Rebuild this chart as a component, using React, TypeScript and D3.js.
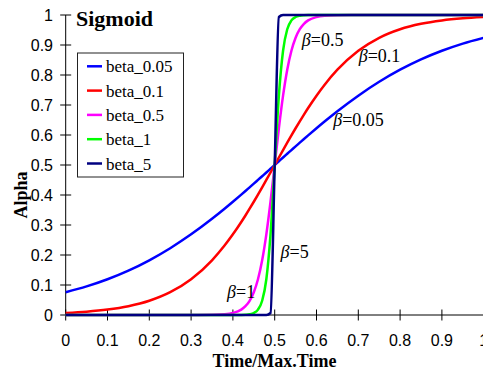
import React from "react";
import * as d3 from "d3";

const T = [0, 0.05, 0.1, 0.15, 0.2, 0.25, 0.3, 0.35, 0.38, 0.4, 0.42, 0.43, 0.44, 0.45, 0.46, 0.47, 0.48, 0.49, 0.5, 0.51, 0.52, 0.53, 0.54, 0.55, 0.56, 0.57, 0.58, 0.6, 0.62, 0.65, 0.7, 0.75, 0.8, 0.85, 0.9, 0.95, 1];

const beta005 = [0.0759, 0.0953, 0.1192, 0.148, 0.1824, 0.2227, 0.2689, 0.3208, 0.3543, 0.3775, 0.4013, 0.4134, 0.4256, 0.4378, 0.4502, 0.4626, 0.475, 0.4875, 0.5, 0.5125, 0.525, 0.5374, 0.5498, 0.5622, 0.5744, 0.5866, 0.5987, 0.6225, 0.6457, 0.6792, 0.7311, 0.7773, 0.8176, 0.852, 0.8808, 0.9047, 0.9241];
const beta01 = [0.0067, 0.011, 0.018, 0.0293, 0.0474, 0.0759, 0.1192, 0.1824, 0.2315, 0.2689, 0.31, 0.3318, 0.3543, 0.3775, 0.4013, 0.4256, 0.4502, 0.475, 0.5, 0.525, 0.5498, 0.5744, 0.5987, 0.6225, 0.6457, 0.6682, 0.69, 0.7311, 0.7685, 0.8176, 0.8808, 0.9241, 0.9526, 0.9707, 0.982, 0.989, 0.9933];
const beta05 = [0, 0, 0, 0, 0, 0, 0, 0.0006, 0.0025, 0.0067, 0.018, 0.0293, 0.0474, 0.0759, 0.1192, 0.1824, 0.2689, 0.3775, 0.5, 0.6225, 0.7311, 0.8176, 0.8808, 0.9241, 0.9526, 0.9707, 0.982, 0.9933, 0.9975, 0.9994, 1, 1, 1, 1, 1, 1, 1];
const beta1 = [0, 0, 0, 0, 0, 0, 0, 0, 0, 0, 0.0003, 0.0009, 0.0025, 0.0067, 0.018, 0.0474, 0.1192, 0.2689, 0.5, 0.7311, 0.8808, 0.9526, 0.982, 0.9933, 0.9975, 0.9991, 0.9997, 1, 1, 1, 1, 1, 1, 1, 1, 1, 1];
const beta5 = [0, 0, 0, 0, 0, 0, 0, 0, 0, 0, 0, 0, 0, 0, 0, 0, 0, 0.0067, 0.5, 0.9933, 1, 1, 1, 1, 1, 1, 1, 1, 1, 1, 1, 1, 1, 1, 1, 1, 1];

const seriesNames = ["beta_0.05", "beta_0.1", "beta_0.5", "beta_1", "beta_5"];
const seriesValues = [beta005, beta01, beta05, beta1, beta5];
const seriesColors = ["#0000ff", "#ff0000", "#ff00ff", "#00ff00", "#000080"];

const xTicks = [0, 0.1, 0.2, 0.3, 0.4, 0.5, 0.6, 0.7, 0.8, 0.9, 1];
const yTicks = [0, 0.1, 0.2, 0.3, 0.4, 0.5, 0.6, 0.7, 0.8, 0.9, 1];

const annotations = [
  { t: 0.565, a: 0.897, label: "=0.5" },
  { t: 0.701, a: 0.845, label: "=0.1" },
  { t: 0.64, a: 0.63, label: "=0.05" },
  { t: 0.514, a: 0.19, label: "=5" },
  { t: 0.386, a: 0.056, label: "=1" },
];

export default function App() {
  const W = 483, H = 373;
  const x = d3.scaleLinear().domain([0, 1]).range([65.7, 483.7]);
  const y = d3.scaleLinear().domain([0, 1]).range([315, 15]);
  const line = d3.line<number>().x((_, i) => x(T[i])).y((d) => y(d)).curve(d3.curveMonotoneX);
  const sans = "'Liberation Sans', Arial, sans-serif";
  const serif = "'Liberation Serif', 'Times New Roman', serif";

  return (
    <svg width={W} height={H} style={{ position: "absolute", left: 0, top: 0, background: "#fff" }}>
      <rect width={W} height={H} fill="#fff" />
      {/* axes */}
      <line x1={x(0)} x2={x(0)} y1={y(1)} y2={y(0)} stroke="#000" strokeWidth={1} />
      <line x1={x(0)} x2={x(1)} y1={y(0)} y2={y(0)} stroke="#000" strokeWidth={1} />
      {yTicks.map((v) => (
        <g key={"y" + v}>
          <line x1={x(0) - 5.5} x2={x(0) + 5.5} y1={y(v)} y2={y(v)} stroke="#000" />
          <text x={53} y={y(v) + 5.6} textAnchor="end" fontFamily={sans} fontSize={16} fill="#000">{String(v)}</text>
        </g>
      ))}
      {xTicks.map((v) => (
        <g key={"x" + v}>
          <line x1={x(v)} x2={x(v)} y1={y(0) - 5.5} y2={y(0) + 5.5} stroke="#000" />
          <text x={x(v)} y={345.5} textAnchor="middle" fontFamily={sans} fontSize={16} fill="#000">{String(v)}</text>
        </g>
      ))}
      {/* series */}
      {seriesValues.map((vals, i) => (
        <path key={seriesNames[i]} d={line(vals) || ""} fill="none" stroke={seriesColors[i]} strokeWidth={2.5} strokeLinejoin="round" />
      ))}
      {/* annotations */}
      {annotations.map((a) => (
        <text key={a.label} x={x(a.t)} y={y(a.a)} fontFamily={serif} fontSize={18} fill="#000">
          <tspan fontStyle="italic">β</tspan>{a.label}
        </text>
      ))}
      {/* titles */}
      <text x={76} y={26} fontFamily={serif} fontWeight="bold" fontSize={22} fill="#000">Sigmoid</text>
      <text x={274.5} y={366.5} textAnchor="middle" fontFamily={serif} fontWeight="bold" fontSize={18} fill="#000">Time/Max.Time</text>
      <text transform="translate(27,195) rotate(-90)" textAnchor="middle" fontFamily={serif} fontWeight="bold" fontSize={18} fill="#000">Alpha</text>
      {/* legend */}
      <rect x={77.5} y={53} width={106} height={124} fill="#fff" stroke="#222" strokeWidth={1} />
      {seriesNames.map((n, i) => (
        <g key={"lg" + n}>
          <line x1={87} x2={102} y1={66.3 + i * 24.3} y2={66.3 + i * 24.3} stroke={seriesColors[i]} strokeWidth={2.5} />
          <text x={106} y={66.3 + i * 24.3 + 6} fontFamily={serif} fontSize={17} fill="#000">{n}</text>
        </g>
      ))}
    </svg>
  );
}
